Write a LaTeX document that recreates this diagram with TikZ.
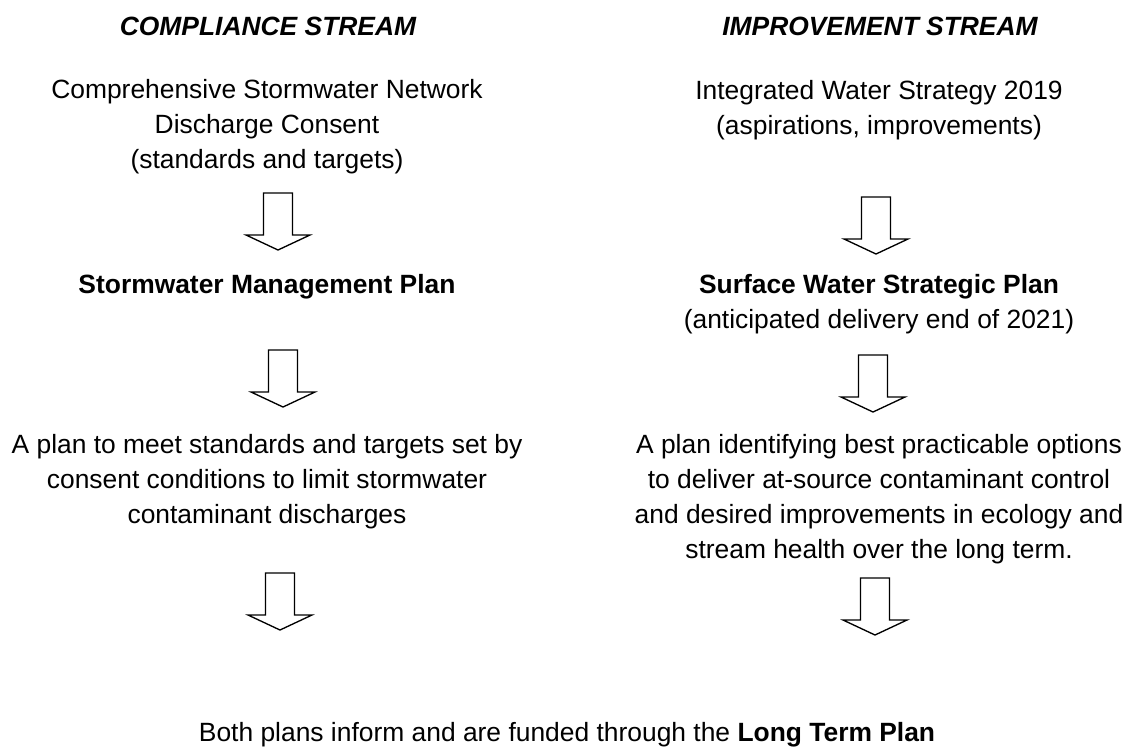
\documentclass[tikz,border=0pt]{standalone}
\usepackage{fontspec}
\setmainfont{Liberation Sans}
\usepackage{tikz}

\begin{document}
\begin{tikzpicture}[x=0.75pt, y=-0.75pt,
	every node/.style={font=\fontsize{19.8pt}{26.25pt}\selectfont, inner sep=0pt, align=center},
	heading/.style={font=\fontsize{19.8pt}{26.25pt}\selectfont\bfseries\itshape, anchor=base},
	blockarrow/.style={draw=black, line width=1pt, fill=white, line join=miter}]
	\fill[white] (0,0) rectangle (1135,747);
	\useasboundingbox (0,0) rectangle (1135,747);
	% stream headings
	\node[heading] (compl) at (268,35) {COMPLIANCE STREAM};
	\node[heading] (impr) at (880,35) {IMPROVEMENT STREAM};
	% compliance stream
	\node[anchor=north] (consent) at (267,79) {Comprehensive Stormwater Network\\Discharge Consent\\(standards and targets)};
	\node[anchor=base] (smp) at (267,293) {\textbf{Stormwater Management Plan}};
	\node[anchor=north] (smpdesc) at (267,434) {A plan to meet standards and targets set by\\consent conditions to limit stormwater\\contaminant discharges};
	% improvement stream
	\node[anchor=north] (iws) at (879,80) {Integrated Water Strategy 2019\\(aspirations, improvements)};
	\node[anchor=north] (swsp) at (879,274) {\textbf{Surface Water Strategic Plan}\\(anticipated delivery end of 2021)};
	\node[anchor=north] (swspdesc) at (879,434) {A plan identifying best practicable options\\to deliver at-source contaminant control\\and desired improvements in ecology and\\stream health over the long term.};
	% both streams
	\node[anchor=base] (ltp) at (567,741) {Both plans inform and are funded through the \textbf{Long Term Plan}};
	% hollow down arrows
	\foreach \cx/\ty in {278/193, 876/197, 283/350, 873/355, 280/573, 875/578} {
		\draw[blockarrow] (\cx-14.5,\ty) -- (\cx+14.5,\ty) -- (\cx+14.5,\ty+42) -- (\cx+32,\ty+42)
			-- (\cx,\ty+57) -- (\cx-32,\ty+42) -- (\cx-14.5,\ty+42) -- cycle;
	}
\end{tikzpicture}
\end{document}
